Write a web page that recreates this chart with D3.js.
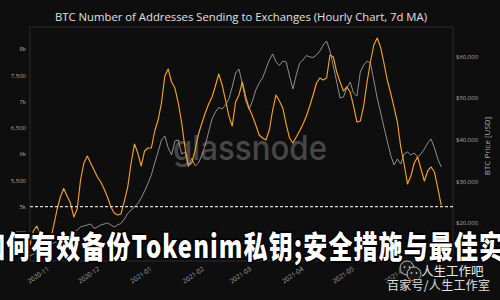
<!DOCTYPE html>
<html><head><meta charset="utf-8">
<script src="https://cdn.jsdelivr.net/npm/d3@7"></script>
<style>html,body{margin:0;padding:0;background:#0e0e0e;} svg{display:block}</style>
</head><body>
<svg id="c" width="500" height="300"></svg>
<script>
// ---- data (2-day samples starting 2020-10-20) ----
const startDate = "2020-10-20";
const stepDays = 2;
const addresses = [4270,4537,4632,4480,4327,4280,4346,4632,4937,5185,5347,5204,5070,4804,4956,5509,5833,5966,5833,5700,
5566,5471,5337,5185,4994,4880,4842,4861,5109,5375,5833,6195,6023,5776,6062,6119,6119,6443,6652,6976,
7491,7625,7377,7262,6976,6595,6119,5795,5833,6081,6386,6595,6786,6957,7091,7300,7529,7320,7034,6729,
6538,6995,7129,7377,7091,6881,6729,6557,6367,6309,6271,6462,6843,7129,7015,6881,6576,6309,6214,6328,
6443,6576,6729,6919,7129,7358,7453,7415,7453,7891,7853,7567,7377,7205,7282,7186,6919,6614,6633,6919,
7377,7758,8082,8215,8044,7739,7415,7167,6900,6614,6138,5814,5433,5585,5833,5947,5718,5490,5681,5757,
5661,5356,5032];
const price = [12068,12549,13030,13511,13872,14353,14714,15195,15556,15917,16397,16878,17359,17840,18321,19043,19283,19524,19764,18682,
19043,19524,19764,20005,19524,19043,19524,19884,20967,22290,23132,23853,24695,26018,27701,29505,31550,34435,37081,39967,
40929,38043,36359,39726,39967,36600,37081,33474,35638,33714,34435,36359,38764,41890,45017,46700,47783,47422,48384,49827,
52713,56080,57042,53434,49346,47302,49346,51991,53675,54877,57042,59206,60649,58725,57884,58966,58725,55358,52232,55599,
58485,59206,60289,59928,59808,60409,61371,62814,63776,61371,57763,53915,50067,50308,52473,53915,51270,50548,56320,58004,
58966,58485,54396,50067,46700,43093,39726,36359,33955,35397,34195,36600,37081,36359,36840,35878,36600,37803,39246,40208,
38043,35397,33474];
const leftTicks = [4000,4500,5000,5500,6000,6500,7000,7500,8000];
const leftTickLabels = ["4k","4,500","5k","5,500","6k","6,500","7k","7,500","8k"];
const rightTicks = [20000,30000,40000,50000,60000];
const rightTickLabels = ["$20,000","$30,000","$40,000","$50,000","$60,000"];
const monthTicks = ["2020-11-01","2020-12-01","2021-01-01","2021-02-01","2021-03-01","2021-04-01","2021-05-01","2021-06-01"];
const monthLabels = ["2020-11","2020-12","2021-01","2021-02","2021-03","2021-04","2021-05","2021-06"];
const thresholdValue = 5000;
const titleText = "BTC Number of Addresses Sending to Exchanges (Hourly Chart, 7d MA)";
const overlayText = "如何有效备份Tokenim私钥;安全措施与最佳实";

// ---- layout ----
const L = 30, R = 453, T = 27, B = 261;
const svg = d3.select("#c");
const parse = d3.utcParse("%Y-%m-%d");
const t0 = parse(startDate);
const dates = addresses.map((_, i) => d3.utcDay.offset(t0, i * stepDays));

const x = d3.scaleUtc().domain([parse("2020-10-20"), parse("2021-06-28")]).range([L, R]);
const yL = d3.scaleLinear().domain([3965, 8425]).range([B, T]);
const yR = d3.scaleLinear().domain([10860, 67144]).range([B, T]);

svg.append("rect").attr("width", 500).attr("height", 300).attr("fill", "#0e0e0e");

// frame
svg.append("rect").attr("x", L).attr("y", T).attr("width", R - L).attr("height", B - T)
  .attr("fill", "none").attr("stroke", "#2a2a2a").attr("stroke-width", 1);

// glassnode watermark
svg.append("text").attr("x", 250).attr("y", 160).attr("text-anchor", "middle")
  .attr("font-family", "Inter, 'Open Sans', sans-serif").attr("font-weight", 500)
  .attr("font-size", 34).attr("fill", "#474747").attr("textLength", 154)
  .attr("lengthAdjust", "spacingAndGlyphs").text("glassnode");

// lines
const lineR = d3.line().x((d, i) => x(dates[i])).y(d => yR(d));
const lineL = d3.line().x((d, i) => x(dates[i])).y(d => yL(d));
svg.append("path").datum(price).attr("d", lineR).attr("fill", "none")
  .attr("stroke", "#9c9c9c").attr("stroke-width", 0.9).attr("stroke-linejoin", "round");
svg.append("path").datum(addresses).attr("d", lineL).attr("fill", "none")
  .attr("stroke", "#f7a21c").attr("stroke-width", 1.15).attr("stroke-linejoin", "round");

// threshold dashed line
svg.append("line").attr("x1", L).attr("x2", R).attr("y1", yL(thresholdValue)).attr("y2", yL(thresholdValue))
  .attr("stroke", "#d8d8d8").attr("stroke-width", 1.3).attr("stroke-dasharray", "3,2");

// left axis labels
const lg = svg.append("g").attr("font-family", "'Open Sans', 'DejaVu Sans', sans-serif")
  .attr("font-size", 6).attr("fill", "#a8a8a8");
leftTicks.forEach((v, i) => {
  lg.append("text").attr("x", L - 4).attr("y", yL(v)).attr("dy", "0.35em")
    .attr("text-anchor", "end").text(leftTickLabels[i]);
});
// right axis labels
rightTicks.forEach((v, i) => {
  lg.append("text").attr("x", R + 3).attr("y", yR(v)).attr("dy", "0.35em")
    .attr("text-anchor", "start").text(rightTickLabels[i]);
});
// x labels
monthTicks.forEach((m, i) => {
  const xx = x(parse(m));
  lg.append("text").attr("transform", `translate(${xx - 2},${B + 7}) rotate(-35)`)
    .attr("text-anchor", "end").attr("dy", "0.35em").attr("font-size", 6.5).text(monthLabels[i]);
});

// right axis title
svg.append("text").attr("transform", "translate(490,146) rotate(-90)").attr("text-anchor", "middle")
  .attr("font-family", "'Open Sans', sans-serif").attr("font-size", 8).attr("fill", "#a8a8a8")
  .text("BTC Price [USD]");

// title
svg.append("text").attr("x", 241).attr("y", 21).attr("text-anchor", "middle")
  .attr("font-family", "'Open Sans', 'Noto Sans', sans-serif").attr("font-size", 11)
  .attr("fill", "#e0e0e0").attr("textLength", 372).attr("lengthAdjust", "spacingAndGlyphs").text(titleText);

// overlay Chinese text
svg.append("text").attr("transform", "translate(-19,258) scale(1,1.3)")
  .attr("font-family", "'Noto Sans CJK SC', sans-serif").attr("font-weight", 900)
  .attr("font-size", 24).attr("fill", "#ffffff").attr("stroke", "#000").attr("stroke-width", 2.5)
  .attr("paint-order", "stroke").attr("textLength", 522).attr("lengthAdjust", "spacing")
  .text(overlayText);

// bottom-right watermark
const wm = svg.append("g");
[[407, 268, 7], [414, 274, 7]].forEach(c => {
  wm.append("circle").attr("cx", c[0]).attr("cy", c[1]).attr("r", c[2])
    .attr("fill", "#1a1a1a").attr("stroke", "#bbb").attr("stroke-width", 1);
  wm.append("circle").attr("cx", c[0] - 2.5).attr("cy", c[1] - 1).attr("r", 0.9).attr("fill", "#bbb");
  wm.append("circle").attr("cx", c[0] + 2.5).attr("cy", c[1] - 1).attr("r", 0.9).attr("fill", "#bbb");
});
wm.append("text").attr("x", 421).attr("y", 276).attr("font-family", "'Noto Sans CJK SC', sans-serif")
  .attr("font-size", 12.5).attr("fill", "#e8e8e8").attr("stroke", "#111").attr("stroke-width", 1.5)
  .attr("paint-order", "stroke").text("人生工作吧");
wm.append("text").attr("x", 387).attr("y", 290).attr("font-family", "'Noto Sans CJK SC', sans-serif")
  .attr("font-size", 12).attr("fill", "#e0e0e0").attr("stroke", "#111").attr("stroke-width", 1.5)
  .attr("paint-order", "stroke").attr("textLength", 103).text("百家号/人生工作室");
</script>
</body></html>
